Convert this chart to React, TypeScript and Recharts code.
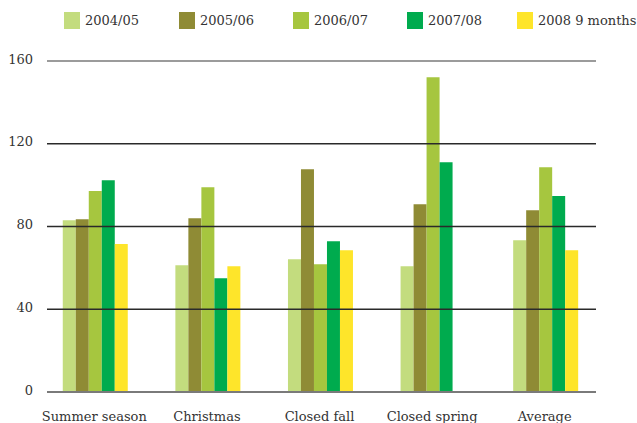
import { BarChart, Bar, XAxis, YAxis, ReferenceLine } from 'recharts';

// Occupancy index by period, per season
const categories = ['Summer season', 'Christmas', 'Closed fall', 'Closed spring', 'Average'];
const season0405 = [83, 61.3, 64.2, 60.8, 73.4];
const season0506 = [83.5, 84, 107.7, 90.8, 87.9];
const season0607 = [97.1, 99, 61.8, 152.2, 108.7];
const season0708 = [102.4, 55, 72.9, 111.1, 94.7];
const nineMonths2008: (number | null)[] = [71.5, 60.8, 68.5, null, 68.5];
const yTicks = [0, 40, 80, 120, 160];

const series = [
  { key: 's0405', name: '2004/05', color: '#C3DC7E', values: season0405 },
  { key: 's0506', name: '2005/06', color: '#8F8B35', values: season0506 },
  { key: 's0607', name: '2006/07', color: '#A6C63F', values: season0607 },
  { key: 's0708', name: '2007/08', color: '#00AB4E', values: season0708 },
  { key: 's2008', name: '2008 9 months', color: '#FEE52A', values: nineMonths2008 },
];

const data = categories.map((name, i) => {
  const row: Record<string, string | number | null> = { name };
  series.forEach((s) => {
    row[s.key] = s.values[i];
  });
  return row;
});

const font = '"DejaVu Serif", serif';
const legendLeft = [64, 179, 293, 407, 517];

const Legend = () => (
  <div style={{ position: 'absolute', left: 0, top: 12, width: 637, height: 18 }}>
    {series.map((s, i) => (
      <div
        key={s.key}
        style={{ position: 'absolute', left: legendLeft[i], top: 0, display: 'flex', alignItems: 'center' }}
      >
        <span style={{ width: 16, height: 17, background: s.color, display: 'inline-block' }} />
        <span style={{ marginLeft: 5, fontFamily: font, fontSize: 13, color: '#333', lineHeight: '17px' }}>
          {s.name}
        </span>
      </div>
    ))}
  </div>
);

export default function App() {
  return (
    <div style={{ position: 'absolute', left: 0, top: 0, width: 637, height: 423, background: '#fff' }}>
      <Legend />
      <BarChart
        width={637}
        height={423}
        data={data}
        margin={{ top: 61, right: 41, bottom: 0, left: 0 }}
        barCategoryGap="22%"
        barGap={0}
      >
        <XAxis
          dataKey="name"
          axisLine={false}
          tickLine={false}
          tickSize={0}
          tickMargin={20}
          height={31}
          padding={{ left: -9, right: -5 }}
          interval={0}
          tick={{ fontFamily: font, fontSize: 13, fill: '#333' }}
        />
        <YAxis
          domain={[0, 160]}
          ticks={yTicks}
          axisLine={false}
          tickLine={false}
          tickSize={0}
          tickMargin={14}
          width={47}
          tick={{ fontFamily: font, fontSize: 13, fill: '#333', dy: -2 }}
        />
        {series.map((s) => (
          <Bar key={s.key} dataKey={s.key} name={s.name} fill={s.color} isAnimationActive={false} />
        ))}
        {yTicks.map((t) => (
          <ReferenceLine
            key={t}
            y={t}
            stroke={t === 0 || t === 160 ? '#7a7a7a' : '#2a2a2a'}
            strokeWidth={t === 0 ? 2 : 1.3}
          />
        ))}
      </BarChart>
    </div>
  );
}
